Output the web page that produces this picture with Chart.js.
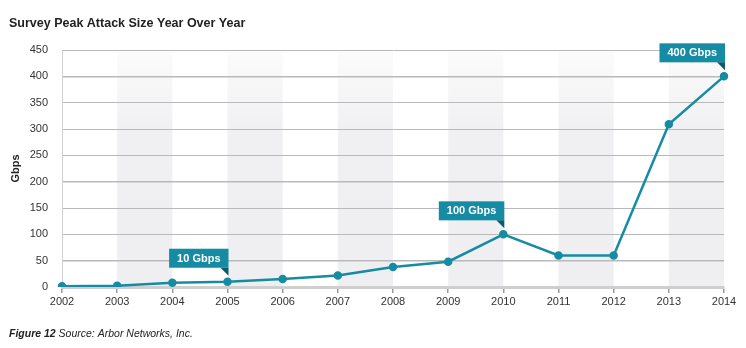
<!DOCTYPE html>
<html>
<head>
<meta charset="utf-8">
<script src="https://cdn.jsdelivr.net/npm/chart.js@4/dist/chart.umd.min.js"></script>
<style>
  html, body { margin: 0; padding: 0; background: #fff; }
  #wrap { position: relative; width: 746px; height: 348px; }
</style>
</head>
<body>
<div id="wrap"><canvas id="attack-chart"></canvas></div>
<script>
// data
var years = ['2002', '2003', '2004', '2005', '2006', '2007', '2008', '2009', '2010', '2011', '2012', '2013', '2014'];
var peakGbps = [1.5, 2.5, 8, 10, 15, 22, 38, 48, 100, 60, 60, 309, 400];
var yTicks = [0, 50, 100, 150, 200, 250, 300, 350, 400, 450];
var callouts = [
    { year: '2005', text: '10 Gbps' },
    { year: '2010', text: '100 Gbps' },
    { year: '2014', text: '400 Gbps' }
];
var shadedFrom = ['2003', '2005', '2007', '2009', '2011', '2013'];

var FONT = '"Liberation Sans", Arial, Helvetica, sans-serif';
var TEAL = '#168ba4';

// gray bands behind the grid
var bandsPlugin = {
    id: 'bands',
    beforeDraw: function(chart) {
        var ctx = chart.ctx, a = chart.chartArea, x = chart.scales.x;
        var g = ctx.createLinearGradient(0, a.top, 0, a.bottom);
        g.addColorStop(0, 'rgba(241,241,243,0.25)');
        g.addColorStop(0.35, '#f0f0f2');
        g.addColorStop(1, '#efeff1');
        ctx.save();
        ctx.fillStyle = g;
        shadedFrom.forEach(function(y) {
            var i = years.indexOf(y);
            var x0 = x.getPixelForValue(i), x1 = x.getPixelForValue(i + 1);
            ctx.fillRect(x0, a.top, x1 - x0, a.bottom - a.top);
        });
        ctx.restore();
    }
};

// titles, callouts and footer
var textPlugin = {
    id: 'texts',
    afterDatasetsDraw: function(chart) {
        var ctx = chart.ctx, xs = chart.scales.x, ys = chart.scales.y;
        ctx.save();
        ctx.fillStyle = '#222';
        ctx.font = 'bold 12.5px ' + FONT;
        ctx.textBaseline = 'alphabetic';
        ctx.fillText('Survey Peak Attack Size Year Over Year', 9, 27);

        ctx.font = 'bold 11px ' + FONT;
        ctx.textBaseline = 'middle';
        callouts.forEach(function(c) {
            var i = years.indexOf(c.year);
            var px = xs.getPixelForValue(i), py = ys.getPixelForValue(peakGbps[i]);
            var w = ctx.measureText(c.text).width + 16, h = 19;
            var right = px + 1, bottom = py - 14;
            ctx.fillStyle = TEAL;
            ctx.fillRect(right - w, bottom - h, w, h);
            ctx.fillStyle = '#0d5a6b';
            ctx.beginPath();
            ctx.moveTo(right - 8, bottom);
            ctx.lineTo(right, bottom);
            ctx.lineTo(right, bottom + 8);
            ctx.closePath();
            ctx.fill();
            ctx.fillStyle = '#fff';
            ctx.textAlign = 'center';
            ctx.fillText(c.text, right - w / 2, bottom - h / 2 + 0.5);
        });

        ctx.textAlign = 'left';
        ctx.textBaseline = 'alphabetic';
        ctx.fillStyle = '#222';
        ctx.font = 'italic bold 10.5px ' + FONT;
        var lead = 'Figure 12';
        ctx.fillText(lead, 9, 337);
        var lw = ctx.measureText(lead).width;
        ctx.font = 'italic 10.5px ' + FONT;
        ctx.fillText(' Source: Arbor Networks, Inc.', 9 + lw, 337);
        ctx.restore();
    }
};

var acc = document.getElementById('attack-chart');

var attackChart = new Chart(acc, {
    type: 'line',
    data: {
        labels: years,
        datasets: [{
            data: peakGbps,
            borderColor: TEAL,
            backgroundColor: TEAL,
            borderWidth: 2.5,
            pointRadius: 3,
            pointHoverRadius: 3,
            tension: 0
        }]
    },
    options: {
        responsive: true,
        maintainAspectRatio: false,
        animation: false,
        layout: {
            padding: { top: 50, right: 22, left: 0, bottom: 0 }
        },
        plugins: {
            legend: { display: false },
            tooltip: { enabled: false }
        },
        scales: {
            x: {
                afterFit: function(s) { s.height = 61; },
                grid: {
                    drawOnChartArea: false,
                    drawTicks: true,
                    tickLength: 6,
                    color: '#999',
                    lineWidth: 1.5
                },
                border: { color: '#cfcfcf', width: 3 },
                ticks: {
                    color: '#333',
                    padding: 2,
                    maxRotation: 0,
                    autoSkip: false,
                    font: { family: FONT, size: 11 }
                }
            },
            y: {
                min: 0,
                max: 450,
                afterFit: function(s) { s.width = 62; },
                afterBuildTicks: function(s) {
                    s.ticks = yTicks.map(function(v) { return { value: v }; });
                },
                grid: {
                    drawTicks: false,
                    color: '#b9b9b9',
                    lineWidth: function(c) {
                        var v = c.tick && c.tick.value;
                        return (v === 400 || v === 200 || v === 50) ? 1.6 : 1;
                    }
                },
                border: { color: '#d0d0d0', width: 1 },
                title: {
                    display: true,
                    text: 'Gbps',
                    color: '#222',
                    padding: { top: 9, bottom: 0 },
                    font: { family: FONT, size: 11, weight: 'bold' }
                },
                ticks: {
                    color: '#333',
                    padding: 14,
                    font: { family: FONT, size: 11 }
                }
            }
        }
    },
    plugins: [bandsPlugin, textPlugin]
});
</script>
</body>
</html>
